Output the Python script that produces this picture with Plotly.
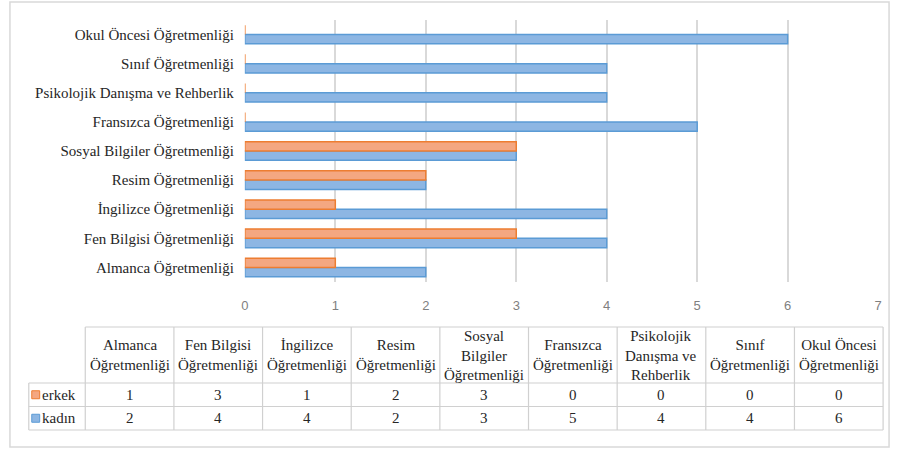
import plotly.graph_objects as go

categories = ["Almanca Öğretmenliği", "Fen Bilgisi Öğretmenliği", "İngilizce Öğretmenliği",
              "Resim Öğretmenliği", "Sosyal Bilgiler Öğretmenliği", "Fransızca Öğretmenliği",
              "Psikolojik Danışma ve Rehberlik", "Sınıf Öğretmenliği", "Okul Öncesi Öğretmenliği"]
table_headers = ["Almanca<br>Öğretmenliği", "Fen Bilgisi<br>Öğretmenliği", "İngilizce<br>Öğretmenliği",
                 "Resim<br>Öğretmenliği", "Sosyal<br>Bilgiler<br>Öğretmenliği", "Fransızca<br>Öğretmenliği",
                 "Psikolojik<br>Danışma ve<br>Rehberlik", "Sınıf<br>Öğretmenliği", "Okul Öncesi<br>Öğretmenliği"]
erkek = [1, 3, 1, 2, 3, 0, 0, 0, 0]
kadin = [2, 4, 4, 2, 3, 5, 4, 4, 6]
x_ticks = [0, 1, 2, 3, 4, 5, 6, 7]

W, H = 898, 452
def px(x): return x / W
def py(y): return 1 - y / H

ORANGE_LINE, ORANGE_FILL = "#ED7D31", "#F4A781"
BLUE_LINE, BLUE_FILL = "#5B9BD5", "#8DB6E3"
SERIF = "Liberation Serif"
TXT = "#262626"
FS = 15

fig = go.Figure()
fig.add_trace(go.Bar(y=categories, x=kadin, name="kadın", orientation="h",
                     marker=dict(color=BLUE_FILL, line=dict(color=BLUE_LINE, width=1.5))))
fig.add_trace(go.Bar(y=categories, x=erkek, name="erkek", orientation="h",
                     marker=dict(color=ORANGE_FILL, line=dict(color=ORANGE_LINE, width=1.5))))

fig.update_layout(
    width=W, height=H, margin=dict(l=0, r=0, t=0, b=0),
    paper_bgcolor="white", plot_bgcolor="white",
    barmode="group", bargap=0.36, bargroupgap=0, showlegend=False,
    xaxis=dict(domain=[px(243), px(882)], range=[0, 7], tickvals=x_ticks,
               showgrid=True, gridcolor="#D9D9D9", gridwidth=1.5, zeroline=False,
               tickfont=dict(family="Liberation Sans", size=13, color="#7F7F7F"),
               ticklabelstandoff=14, fixedrange=True),
    yaxis=dict(domain=[py(282), py(20)], type="category",
               tickfont=dict(family=SERIF, size=FS, color=TXT),
               ticklabelstandoff=10, showgrid=False, zeroline=False, showline=False),
)

shapes = []
annotations = []
LINE = "#D0D0D0"
# outer border
shapes.append(dict(type="rect", xref="paper", yref="paper", x0=px(6), x1=px(893), y0=py(447), y1=py(2),
                   line=dict(color="#D9D9D9", width=1.5)))

n = len(categories)
col_left, col_right = 82, 887
cw = (col_right - col_left) / n
lab_left = 25
y_head_top, y_head_bot = 327, 383
row_h = 23.5
rows = [("erkek", erkek, ORANGE_LINE, ORANGE_FILL), ("kadın", kadin, BLUE_LINE, BLUE_FILL)]
y_bot = y_head_bot + row_h * len(rows)

shapes.append(dict(type="line", xref="paper", yref="paper", x0=px(col_left), x1=px(col_right),
                   y0=py(y_head_top), y1=py(y_head_top), line=dict(color=LINE, width=1.2)))
for r in range(len(rows) + 1):
    yy = y_head_bot + r * row_h
    shapes.append(dict(type="line", xref="paper", yref="paper", x0=px(lab_left), x1=px(col_right),
                       y0=py(yy), y1=py(yy), line=dict(color=LINE, width=1.2)))
shapes.append(dict(type="line", xref="paper", yref="paper", x0=px(lab_left), x1=px(lab_left),
                   y0=py(y_head_bot), y1=py(y_bot), line=dict(color=LINE, width=1.2)))
for c in range(n + 1):
    xx = col_left + c * cw
    shapes.append(dict(type="line", xref="paper", yref="paper", x0=px(xx), x1=px(xx),
                       y0=py(y_head_top), y1=py(y_bot), line=dict(color=LINE, width=1.2)))

for c, h in enumerate(table_headers):
    annotations.append(dict(xref="paper", yref="paper", x=px(col_left + (c + 0.5) * cw),
                            y=py((y_head_top + y_head_bot) / 2), text=h, showarrow=False,
                            xanchor="center", yanchor="middle", align="center",
                            font=dict(family=SERIF, size=FS, color=TXT)))
for r, (name, vals, lc, fc) in enumerate(rows):
    yc = y_head_bot + (r + 0.5) * row_h
    shapes.append(dict(type="rect", xref="paper", yref="paper", x0=px(28), x1=px(36),
                       y0=py(yc + 4), y1=py(yc - 4), fillcolor=fc, line=dict(color=lc, width=1)))
    annotations.append(dict(xref="paper", yref="paper", x=px(36), y=py(yc), text=name,
                            showarrow=False, xanchor="left", yanchor="middle",
                            font=dict(family=SERIF, size=FS, color=TXT)))
    for c, v in enumerate(vals):
        annotations.append(dict(xref="paper", yref="paper", x=px(col_left + (c + 0.5) * cw), y=py(yc),
                                text=str(v), showarrow=False, xanchor="center", yanchor="middle",
                                font=dict(family=SERIF, size=FS, color=TXT)))

fig.update_layout(shapes=shapes, annotations=annotations)
fig.write_html("out.html", config={"displayModeBar": False},
               post_script="document.body.style.margin='0';document.body.style.overflow='hidden';")
